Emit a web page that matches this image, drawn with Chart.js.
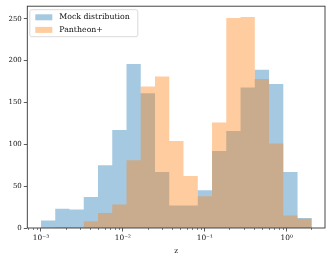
<!DOCTYPE html>
<html>
<head>
<meta charset="utf-8">
<script src="https://cdn.jsdelivr.net/npm/chart.js@4/dist/chart.umd.min.js"></script>
<style>
  html, body { margin: 0; padding: 0; background: #fff; }
  #wrap { width: 332px; height: 260px; }
</style>
</head>
<body>
<div id="wrap"><canvas id="hist"></canvas></div>
<script>
// bin edges (log spaced)
const binEdges = [0.001, 0.001493, 0.002228, 0.003327, 0.004966, 0.007413, 0.01107, 0.01652,
  0.02466, 0.03681, 0.05495, 0.08204, 0.1225, 0.1828, 0.2729, 0.4074, 0.6081, 0.9078, 1.355, 2.023];
const mockCounts = [9, 23, 22, 37, 75, 117, 196, 161, 67, 27, 27, 45, 92, 116, 168, 189, 172, 67, 12];
const pantheonCounts = [0, 1, 1, 8, 18, 28, 81, 169, 181, 104, 62, 38, 126, 251, 252, 178, 101, 15, 11];
const seriesNames = ['Mock distribution', 'Pantheon+'];
const majorTicks = [0.001, 0.01, 0.1, 1];
const tickLabels = ['10\u207B\u00B3', '10\u207B\u00B2', '10\u207B\u00B9', '10\u2070'];
const yTicks = [0, 50, 100, 150, 200, 250];

const blueFill = 'rgba(31, 119, 180, 0.4)';
const orangeFill = 'rgba(255, 127, 14, 0.4)';
const fontFamily = '"DejaVu Serif", "Liberation Serif", serif';

// step points: each edge carries the count of the bin that starts there
function stepPoints(counts) {
  const pts = counts.map((c, i) => ({ x: binEdges[i], y: c }));
  pts.push({ x: binEdges[binEdges.length - 1], y: counts[counts.length - 1] });
  return pts;
}

const frameAndExtras = {
  id: 'frameAndExtras',
  afterDraw(chart) {
    const ctx = chart.ctx;
    const a = chart.chartArea;
    const xs = chart.scales.x;

    // minor ticks on the log axis
    ctx.save();
    ctx.strokeStyle = '#333';
    ctx.lineWidth = 0.6;
    for (let e = -4; e <= 0; e++) {
      for (let m = 2; m <= 9; m++) {
        const v = m * Math.pow(10, e);
        if (v < xs.min || v > xs.max) continue;
        const px = Math.round(xs.getPixelForValue(v)) + 0.5;
        ctx.beginPath();
        ctx.moveTo(px, a.bottom);
        ctx.lineTo(px, a.bottom + 2);
        ctx.stroke();
      }
    }

    // frame
    ctx.strokeStyle = '#333';
    ctx.lineWidth = 0.9;
    ctx.strokeRect(a.left, a.top, a.right - a.left, a.bottom - a.top);

    // legend box
    const lx = a.left + 2.5, ly = a.top + 3.5, lw = 108, lh = 27;
    ctx.fillStyle = 'rgba(255,255,255,0.8)';
    ctx.strokeStyle = '#d0d0d0';
    ctx.lineWidth = 0.8;
    ctx.beginPath();
    ctx.roundRect(lx, ly, lw, lh, 2);
    ctx.fill();
    ctx.stroke();

    const fills = [blueFill, orangeFill];
    ctx.font = '7.8px ' + fontFamily;
    ctx.textBaseline = 'middle';
    seriesNames.forEach((name, i) => {
      const cy = ly + 7.6 + i * 12.6;
      ctx.fillStyle = fills[i];
      ctx.fillRect(lx + 5.5, cy - 3, 17, 6);
      ctx.fillStyle = '#111';
      ctx.fillText(name, lx + 29.5, cy);
    });
    ctx.restore();
  }
};

new Chart(document.getElementById('hist'), {
  type: 'line',
  data: {
    datasets: [
      {
        label: seriesNames[0],
        data: stepPoints(mockCounts),
        stepped: 'before',
        fill: 'origin',
        backgroundColor: blueFill,
        borderWidth: 0,
        pointRadius: 0,
        order: 1
      },
      {
        label: seriesNames[1],
        data: stepPoints(pantheonCounts),
        stepped: 'before',
        fill: 'origin',
        backgroundColor: orangeFill,
        borderWidth: 0,
        pointRadius: 0,
        order: 0
      }
    ]
  },
  options: {
    responsive: true,
    maintainAspectRatio: false,
    animation: false,
    layout: { padding: { top: 6, right: 7, left: 0, bottom: 0 } },
    plugins: { legend: { display: false }, tooltip: { enabled: false } },
    scales: {
      x: {
        type: 'logarithmic',
        min: 6.81e-4,
        max: 2.93,
        afterBuildTicks: scale => { scale.ticks = majorTicks.map(v => ({ value: v })); },
        afterFit: scale => { scale.height = 32; },
        ticks: {
          autoSkip: false,
          maxRotation: 0,
          padding: 2,
          color: '#111',
          font: { family: fontFamily, size: 7.4 },
          callback: (v) => tickLabels[majorTicks.indexOf(v)] || ''
        },
        grid: { drawOnChartArea: false, tickLength: 3.5, tickColor: '#333', tickWidth: 0.8 },
        border: { display: false },
        title: {
          display: true,
          text: 'z',
          color: '#111',
          font: { family: fontFamily, size: 7.4 },
          padding: { top: 2, bottom: 4 }
        }
      },
      y: {
        min: 0,
        max: 265,
        afterBuildTicks: scale => { scale.ticks = yTicks.map(v => ({ value: v })); },
        afterFit: scale => { scale.width = 27.3; },
        ticks: {
          padding: 2,
          color: '#111',
          font: { family: fontFamily, size: 7 }
        },
        grid: { drawOnChartArea: false, tickLength: 3.5, tickColor: '#333', tickWidth: 0.8 },
        border: { display: false }
      }
    }
  },
  plugins: [frameAndExtras]
});
</script>
</body>
</html>
